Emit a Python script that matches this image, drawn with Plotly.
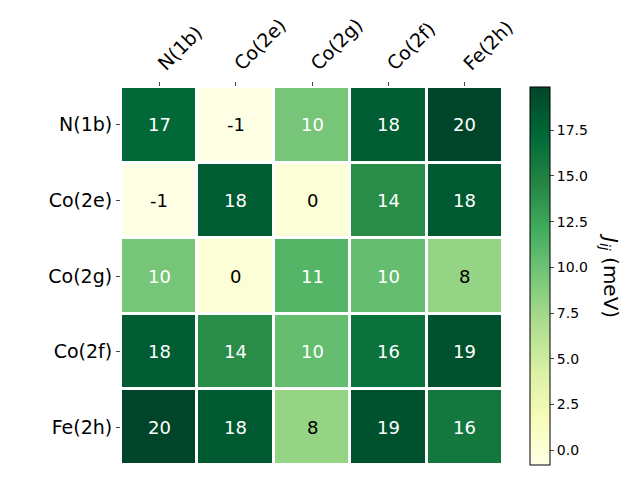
import plotly.graph_objects as go

sites = ["N(1b)", "Co(2e)", "Co(2g)", "Co(2f)", "Fe(2h)"]

# exchange couplings J_ij in meV (symmetric)
row_n1b = [17.2, -0.82, 9.6, 18.1, 19.87]
row_co2e = [-0.82, 18.2, 0.1, 14.2, 18.3]
row_co2g = [9.6, 0.1, 11.2, 10.4, 8.1]
row_co2f = [18.1, 14.2, 10.4, 16.4, 18.9]
row_fe2h = [19.87, 18.3, 8.1, 18.9, 15.8]
j_matrix = [row_n1b, row_co2e, row_co2g, row_co2f, row_fe2h]

cbar_ticks = [0, 2.5, 5, 7.5, 10, 12.5, 15, 17.5]

zmin = min(min(r) for r in j_matrix)
zmax = max(max(r) for r in j_matrix)

fig = go.Figure()
fig.add_trace(go.Heatmap(
    z=j_matrix,
    x=sites,
    y=sites,
    colorscale="YlGn",
    zmin=zmin,
    zmax=zmax,
    xgap=3,
    ygap=3,
    colorbar={
        "x": 1.0,
        "xanchor": "left",
        "xpad": 27,
        "thickness": 20,
        "len": 1.0,
        "y": 0.5,
        "ypad": 0,
        "outlinewidth": 1,
        "outlinecolor": "black",
        "tickvals": cbar_ticks,
        "tickformat": ".1f",
        "ticks": "outside",
        "ticklen": 4,
        "tickfont": {"size": 14, "color": "black"},
    },
))

# cell labels, white text on darker cells
threshold = (zmin + zmax) / 2
for i, row in enumerate(j_matrix):
    for j, v in enumerate(row):
        fig.add_annotation(
            x=sites[j], y=sites[i],
            text=f"{round(v):d}",
            showarrow=False,
            font={"size": 18, "color": "white" if v > threshold else "black"},
        )

# colorbar label, rotated like matplotlib's 270 degrees
fig.add_annotation(
    x=1.28, y=0.5, xref="paper", yref="paper",
    xanchor="center", yanchor="middle",
    text="<i>J<sub>ij</sub></i> (meV)",
    textangle=90,
    showarrow=False,
    font={"size": 20, "color": "black"},
)

fig.update_xaxes(
    side="top",
    tickangle=-45,
    ticks="outside",
    ticklen=4,
    tickfont={"size": 19, "color": "black"},
    showgrid=False,
    zeroline=False,
    automargin=False,
)
fig.update_yaxes(
    autorange="reversed",
    ticks="outside",
    ticklen=4,
    tickfont={"size": 19, "color": "black"},
    showgrid=False,
    zeroline=False,
    automargin=False,
)
# page body adds an 8 px offset, so margins are shifted to compensate
fig.update_layout(
    width=640,
    height=480,
    margin={"l": 113, "r": 145, "t": 79, "b": 23},
    plot_bgcolor="white",
    paper_bgcolor="white",
    font={"family": "DejaVu Sans", "color": "black"},
)
fig.write_html("out.html")
